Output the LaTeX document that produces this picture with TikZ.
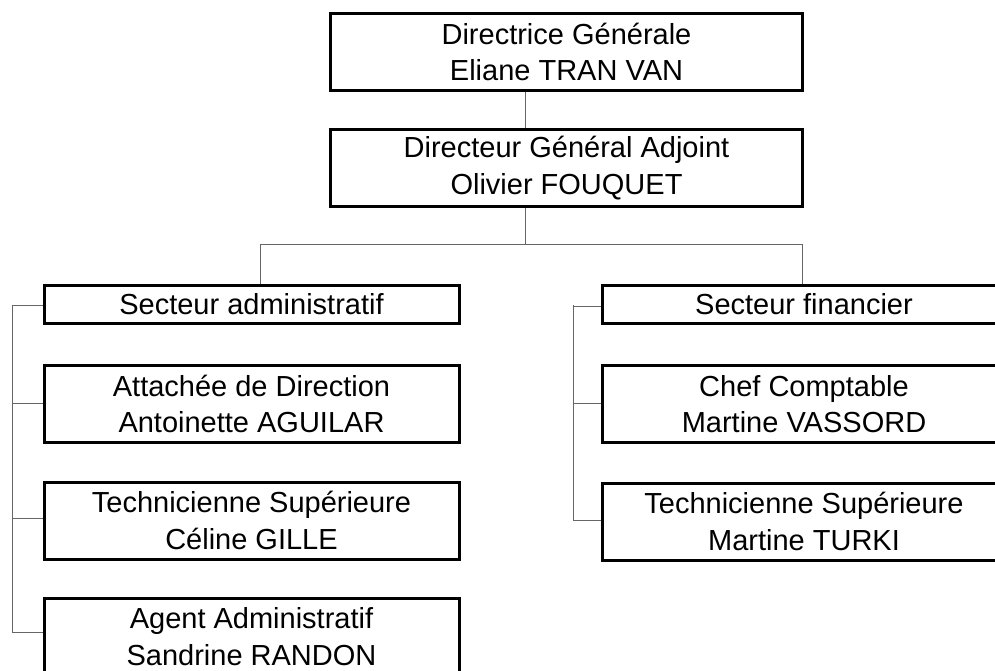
\documentclass[tikz,border=0pt]{standalone}
\usepackage{fontspec}
\setmainfont{Liberation Sans}
\tikzset{
  orgbox/.style={draw=black, line width=3pt, rectangle, inner sep=0pt, align=center,
    font=\fontsize{29}{36.6}\selectfont, text=black},
  link/.style={draw=black!60, line width=1pt},
}
\begin{document}
\begin{tikzpicture}[x=1pt, y=-1pt]
\useasboundingbox (0,0) rectangle (995,670);
\clip (0,0) rectangle (995,670);
\fill[white] (0,0) rectangle (995,670);
% top
\node[orgbox, minimum width=472pt, minimum height=77pt] (dg) at (566.5,52) {Directrice Générale\\Eliane TRAN VAN};
\node[orgbox, minimum width=472pt, minimum height=77pt] (dga) at (566.5,168) {Directeur Général Adjoint\\Olivier FOUQUET};
% left column
\node[orgbox, minimum width=415pt, minimum height=38pt] (sa) at (251.5,304) {Secteur administratif};
\node[orgbox, minimum width=415pt, minimum height=77pt] (att) at (251.5,404) {Attachée de Direction\\Antoinette AGUILAR};
\node[orgbox, minimum width=415pt, minimum height=77pt] (tsl) at (251.5,520.5) {Technicienne Supérieure\\Céline GILLE};
\node[orgbox, minimum width=415pt, minimum height=77pt] (aa) at (251.5,636.5) {Agent Administratif\\Sandrine RANDON};
% right column
\node[orgbox, minimum width=404pt, minimum height=38pt] (sf) at (804,304) {Secteur financier};
\node[orgbox, minimum width=404pt, minimum height=77pt] (cc) at (804,404) {Chef Comptable\\Martine VASSORD};
\node[orgbox, minimum width=404pt, minimum height=77pt] (tsr) at (804,521.5) {Technicienne Supérieure\\Martine TURKI};
% helper coordinates
\coordinate (cx) at (525,0);
\coordinate (bus) at (0,244);
\coordinate (lx) at (260,0);
\coordinate (rx) at (802,0);
\coordinate (ltree) at (12,0);
\coordinate (rtree) at (573,0);
% connectors
\draw[link] (dg.south -| cx) -- (dga.north -| cx);
\draw[link] (dga.south -| cx) -- (bus -| cx);
\draw[link] (bus -| lx) -- (bus -| rx);
\draw[link] (bus -| lx) -- (sa.north -| lx);
\draw[link] (bus -| rx) -- (sf.north -| rx);
% left tree
\draw[link] ([yshift=-1pt]ltree |- sa.west) -- ([yshift=4.5pt]ltree |- aa.west);
\draw[link] ([yshift=-1pt]ltree |- sa.west) -- ([yshift=-1pt]sa.west);
\draw[link] ([yshift=1pt]ltree |- att.west) -- ([yshift=1pt]att.west);
\draw[link] ([yshift=2.5pt]ltree |- tsl.west) -- ([yshift=2.5pt]tsl.west);
\draw[link] ([yshift=4.5pt]ltree |- aa.west) -- ([yshift=4.5pt]aa.west);
% right tree
\draw[link] ([yshift=-1pt]rtree |- sf.west) -- ([yshift=1.5pt]rtree |- tsr.west);
\draw[link] ([yshift=-2pt]rtree |- sf.west) -- ([yshift=-2pt]sf.west);
\draw[link] ([yshift=1pt]rtree |- cc.west) -- ([yshift=1pt]cc.west);
\draw[link] ([yshift=1.5pt]rtree |- tsr.west) -- ([yshift=1.5pt]tsr.west);
\end{tikzpicture}
\end{document}
